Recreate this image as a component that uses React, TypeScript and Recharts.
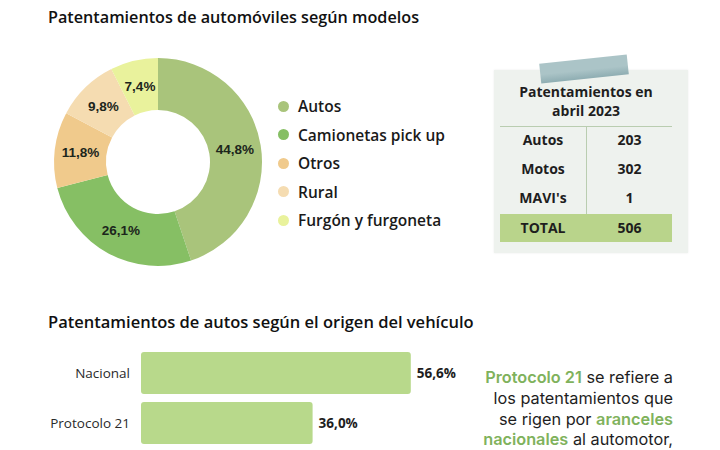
import React from 'react';
import {
  PieChart,
  Pie,
  Cell,
  Legend,
  BarChart,
  Bar,
  XAxis,
  YAxis,
  LabelList,
} from 'recharts';

const modelNames = ['Autos', 'Camionetas pick up', 'Otros', 'Rural', 'Furgón y furgoneta'];
const modelShares = [44.8, 26.1, 11.8, 9.8, 7.4];
const modelColors = ['#a9c47b', '#86bf64', '#f0ca8c', '#f5dcb1', '#e9f29c'];

const originNames = ['Nacional', 'Protocolo 21'];
const originShares = [56.6, 36.0];

const tableRows = ['Autos', 'Motos', "MAVI's"];
const tableValues = [203, 302, 1];
const tableTotal = 506;

const pieData = modelNames.map((name, i) => ({ name, value: modelShares[i] }));
const barData = originNames.map((name, i) => ({ name, value: originShares[i] }));

const fmt = (v: number) => v.toFixed(1).replace('.', ',') + '%';

const TITLE_FONT = '"Open Sans", sans-serif';
const RAD = Math.PI / 180;

function SliceLabel(props: any) {
  const { cx, cy, midAngle, innerRadius, outerRadius, value } = props;
  const r = (innerRadius + outerRadius) / 2;
  const x = cx + r * Math.cos(-midAngle * RAD);
  const y = cy + r * Math.sin(-midAngle * RAD);
  return (
    <text
      x={x}
      y={y}
      textAnchor="middle"
      dominantBaseline="central"
      fill="#1c261c"
      fontFamily='"Liberation Sans", Arial, sans-serif'
      fontWeight={700}
      fontSize={13.5}
    >
      {fmt(value)}
    </text>
  );
}

// legend keeps the order of the data instead of the library's sorted payload
function LegendList() {
  return (
    <div>
      {modelNames.map((name, i) => (
        <div
          key={name}
          style={{ display: 'flex', alignItems: 'center', height: 28.5 }}
        >
          <span
            style={{
              width: 11,
              height: 11,
              borderRadius: '50%',
              background: modelColors[i],
              marginRight: 9,
            }}
          />
          <span
            style={{
              fontFamily: TITLE_FONT,
              fontWeight: 600,
              fontSize: 15.5,
              color: '#1a1a1a',
            }}
          >
            {name}
          </span>
        </div>
      ))}
    </div>
  );
}

const cellText: React.CSSProperties = {
  fontFamily: TITLE_FONT,
  fontWeight: 700,
  fontSize: 14,
  color: '#1e1e1e',
  textAlign: 'center',
};

function RegTable() {
  return (
    <div
      style={{
        position: 'absolute',
        left: 494,
        top: 70,
        width: 194,
        height: 183,
        background: '#eef2ee',
        boxShadow: '0 0 2px rgba(0,0,0,0.08)',
      }}
    >
      <div
        style={{
          position: 'absolute',
          left: 46,
          top: -11,
          width: 88,
          height: 20,
          background: 'linear-gradient(#abc4c7 0%, #abc4c7 55%, #8eadb2 100%)',
          transform: 'rotate(-6deg)',
        }}
      />
      <div
        style={{
          ...cellText,
          position: 'absolute',
          left: 6,
          width: 172,
          top: 12,
          lineHeight: '19px',
        }}
      >
        Patentamientos en
        <br />
        abril 2023
      </div>
      <div
        style={{
          position: 'absolute',
          left: 6,
          top: 56,
          width: 172,
          height: 115,
          borderTop: '1.5px solid #b9cdb0',
        }}
      >
        <div
          style={{
            position: 'absolute',
            left: 86,
            top: 0,
            width: 1,
            height: 115,
            background: '#b9cdb0',
          }}
        />
        {tableRows.map((r, i) => (
          <div
            key={r}
            style={{ position: 'absolute', top: 2 + i * 29, left: 0, width: 172, height: 22 }}
          >
            <div style={{ ...cellText, position: 'absolute', left: 0, width: 86, lineHeight: '22px' }}>
              {r}
            </div>
            <div style={{ ...cellText, position: 'absolute', left: 87, width: 85, lineHeight: '22px' }}>
              {tableValues[i]}
            </div>
          </div>
        ))}
        <div
          style={{
            position: 'absolute',
            top: 87,
            left: 0,
            width: 172,
            height: 28,
            background: '#b9d48b',
          }}
        >
          <div style={{ ...cellText, position: 'absolute', left: 0, width: 86, lineHeight: '28px' }}>
            TOTAL
          </div>
          <div style={{ ...cellText, position: 'absolute', left: 87, width: 85, lineHeight: '28px' }}>
            {tableTotal}
          </div>
        </div>
      </div>
    </div>
  );
}

const green: React.CSSProperties = { color: '#7fb25c', fontWeight: 600 };

export default function App() {
  return (
    <div
      style={{
        position: 'absolute',
        left: 0,
        top: 0,
        width: 720,
        height: 450,
        background: '#ffffff',
        overflow: 'hidden',
      }}
    >
      <div
        style={{
          position: 'absolute',
          left: 48,
          top: 6,
          fontFamily: TITLE_FONT,
          fontWeight: 600,
          fontSize: 16.2,
          color: '#111',
        }}
      >
        Patentamientos de automóviles según modelos
      </div>

      <div style={{ position: 'absolute', left: 43, top: 47 }}>
        <PieChart width={420} height={220}>
          <Pie
            data={pieData}
            dataKey="value"
            nameKey="name"
            cx={110}
            cy={110}
            innerRadius={52}
            outerRadius={104}
            startAngle={90}
            endAngle={-270}
            stroke="none"
            label={SliceLabel}
            labelLine={false}
            isAnimationActive={false}
          >
            {pieData.map((d, i) => (
              <Cell key={d.name} fill={modelColors[i]} />
            ))}
          </Pie>
          <Legend
            content={LegendList}
            wrapperStyle={{ position: 'absolute', left: 235, top: 45, width: 190 }}
          />
        </PieChart>
      </div>

      <RegTable />

      <div
        style={{
          position: 'absolute',
          left: 48,
          top: 310,
          fontFamily: TITLE_FONT,
          fontWeight: 600,
          fontSize: 16.5,
          color: '#111',
        }}
      >
        Patentamientos de autos según el origen del vehículo
      </div>

      <div style={{ position: 'absolute', left: 0, top: 348 }}>
        <BarChart
          width={480}
          height={100}
          data={barData}
          layout="vertical"
          margin={{ top: 0, right: 53, bottom: 0, left: 0 }}
          barSize={42}
        >
          <XAxis type="number" domain={[0, 60]} hide />
          <YAxis
            type="category"
            dataKey="name"
            width={141}
            axisLine={false}
            tickLine={false}
            tickSize={0}
            tickMargin={11}
            tick={{ fill: '#2a2a2a', fontSize: 13.5, fontFamily: TITLE_FONT }}
          />
          <Bar dataKey="value" fill="#b8d98b" radius={3} isAnimationActive={false}>
            <LabelList
              dataKey="value"
              position="right"
              offset={6}
              formatter={(v: any) => fmt(Number(v))}
              style={{
                fill: '#1e1e1e',
                fontSize: 13.5,
                fontWeight: 700,
                fontFamily: TITLE_FONT,
              }}
            />
          </Bar>
        </BarChart>
      </div>

      <div
        style={{
          position: 'absolute',
          right: 47,
          top: 367,
          width: 260,
          textAlign: 'right',
          fontFamily: 'Inter, sans-serif',
          fontSize: 16.3,
          lineHeight: '20.8px',
          color: '#1e1e1e',
        }}
      >
        <span style={green}>Protocolo 21</span> se refiere a
        <br />
        los patentamientos que
        <br />
        se rigen por <span style={green}>aranceles</span>
        <br />
        <span style={green}>nacionales</span> al automotor,
      </div>
    </div>
  );
}
